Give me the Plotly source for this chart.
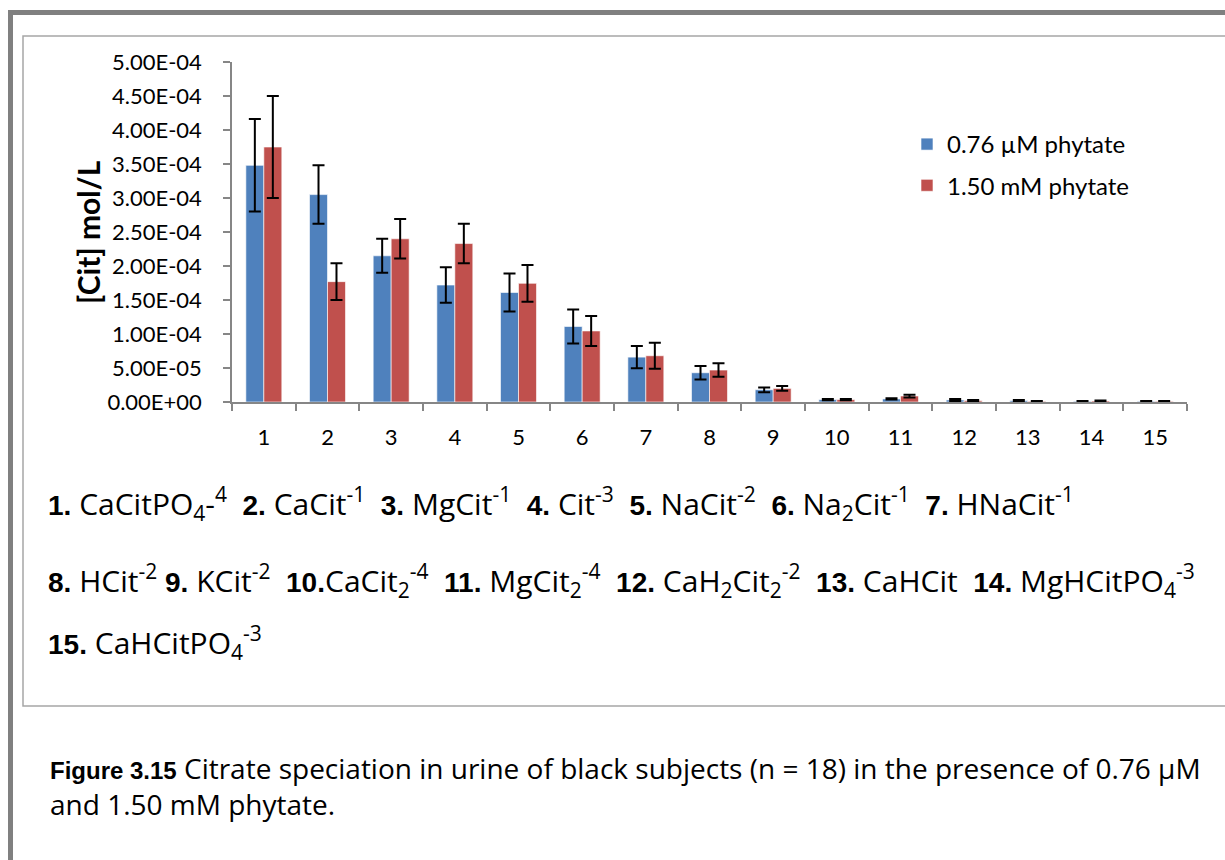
import plotly.graph_objects as go

# ---------------- data ----------------
categories = [str(i) for i in range(1, 16)]
series_names = ["0.76 µM phytate", "1.50 mM phytate"]
low_phytate = [3.48e-4, 3.05e-4, 2.15e-4, 1.72e-4, 1.61e-4, 1.11e-4, 0.66e-4, 0.43e-4,
               0.18e-4, 0.035e-4, 0.045e-4, 0.03e-4, 0.02e-4, 0.01e-4, 0.01e-4]
low_err = [0.68e-4, 0.43e-4, 0.25e-4, 0.26e-4, 0.28e-4, 0.25e-4, 0.165e-4, 0.10e-4,
           0.035e-4, 0.01e-4, 0.01e-4, 0.015e-4, 0.008e-4, 0.005e-4, 0.005e-4]
high_phytate = [3.75e-4, 1.77e-4, 2.40e-4, 2.33e-4, 1.745e-4, 1.045e-4, 0.68e-4, 0.47e-4,
                0.20e-4, 0.035e-4, 0.088e-4, 0.02e-4, 0.01e-4, 0.015e-4, 0.01e-4]
high_err = [0.75e-4, 0.27e-4, 0.29e-4, 0.29e-4, 0.27e-4, 0.22e-4, 0.19e-4, 0.10e-4,
            0.035e-4, 0.01e-4, 0.02e-4, 0.008e-4, 0.005e-4, 0.008e-4, 0.005e-4]
y_ticks = [i * 5e-5 for i in range(11)]
y_title = "[Cit] mol/L"
# (number, formula) pairs for the species key
species_line1 = [("1.", " CaCitPO<sub>4</sub>-<sup>4</sup>"), ("2.", " CaCit<sup>-1</sup>"),
                 ("3.", " MgCit<sup>-1</sup>"), ("4.", " Cit<sup>-3</sup>"),
                 ("5.", " NaCit<sup>-2</sup>"), ("6.", " Na<sub>2</sub>Cit<sup>-1</sup>"),
                 ("7.", " HNaCit<sup>-1</sup>")]
species_line2 = [("8.", " HCit<sup>-2</sup>"), ("9.", " KCit<sup>-2</sup>"),
                 ("10.", "CaCit<sub>2</sub><sup>-4</sup>"), ("11.", " MgCit<sub>2</sub><sup>-4</sup>"),
                 ("12.", " CaH<sub>2</sub>Cit<sub>2</sub><sup>-2</sup>"), ("13.", " CaHCit"),
                 ("14.", " MgHCitPO<sub>4</sub><sup>-3</sup>")]
species_line3 = [("15.", " CaHCitPO<sub>4</sub><sup>-3</sup>")]
caption_bold = "Figure 3.15"
caption_line1 = " Citrate speciation in urine of black subjects (n = 18) in the presence of 0.76 µM"
caption_line2 = "and 1.50 mM phytate."

# ---------------- layout geometry (pixels) ----------------
W, H = 1225, 860
L, R, T, B = 232, 1187, 62, 402
PW, PH = R - L, B - T


def px(x):
    return (x - L) / PW


def py(y):
    return (B - y) / PH


blue = "#4F81BD"
red = "#C0504D"
chart_font = "Lato, Open Sans, sans-serif"
text_font = "Open Sans, Liberation Sans, Arial, sans-serif"
KEY_SIZE, KEY_BOLD = 30, 28
CAP_SIZE, CAP_BOLD = 28, 24


def bold(s, size):
    return ('<span style="font-family:Liberation Sans, Arial, sans-serif;font-size:%dpx">' % size
            + "<b>" + s + "</b></span>")


def join_line(items, seps):
    out = ""
    for i, (num, formula) in enumerate(items):
        if i > 0:
            out += seps[i - 1]
        out += bold(num, KEY_BOLD) + formula
    return out


fig = go.Figure()
fig.add_trace(go.Bar(
    x=categories, y=low_phytate, name=series_names[0], legendgroup="a",
    marker=dict(color=blue, line=dict(color="rgba(255,255,255,0.6)", width=1)),
    error_y=dict(type="data", array=low_err, color="black", thickness=2, width=6),
))
fig.add_trace(go.Bar(
    x=categories, y=high_phytate, name=series_names[1], legendgroup="b",
    marker=dict(color=red, line=dict(color="rgba(255,255,255,0.6)", width=1)),
    error_y=dict(type="data", array=high_err, color="black", thickness=2, width=6),
))

shapes = [
    dict(type="line", xref="paper", yref="paper", x0=px(8), x1=px(1230), y0=py(12.5), y1=py(12.5),
         line=dict(color="#808080", width=5)),
    dict(type="line", xref="paper", yref="paper", x0=px(10.5), x1=px(10.5), y0=py(10), y1=py(870),
         line=dict(color="#808080", width=5)),
    dict(type="rect", xref="paper", yref="paper", x0=px(23), x1=px(1240), y0=py(36), y1=py(706),
         line=dict(color="#A6A6A6", width=1.5), layer="below"),
]

two = "&nbsp;&nbsp;"
one = "&nbsp;"
lines = [
    (join_line(species_line1, [two] * 6), 503),
    (join_line(species_line2, [one, two, two, two, two, two]), 580),
    (join_line(species_line3, []), 642),
]
annotations = []
for txt, yline in lines:
    annotations.append(dict(text=txt, x=px(46), y=py(yline), xref="paper", yref="paper",
                            xanchor="left", yanchor="middle", showarrow=False,
                            font=dict(family=text_font, size=KEY_SIZE, color="black")))
annotations.append(dict(text=bold(caption_bold, CAP_BOLD) + caption_line1 + "<br>" + caption_line2,
                        x=px(48), y=py(786), xref="paper", yref="paper", align="left",
                        xanchor="left", yanchor="middle", showarrow=False,
                        font=dict(family=text_font, size=CAP_SIZE, color="black")))
annotations.append(dict(text="<b>" + y_title + "</b>", x=px(88), y=py(232), xref="paper", yref="paper",
                        textangle=-90, showarrow=False, xanchor="center", yanchor="middle",
                        font=dict(family=chart_font, size=30, color="black")))

fig.update_layout(
    width=W, height=H,
    margin=dict(l=L, r=W - R, t=T, b=H - B, pad=0),
    paper_bgcolor="white", plot_bgcolor="white",
    barmode="group", bargap=0.435, bargroupgap=0.0,
    font=dict(family=chart_font, size=22, color="black"),
    showlegend=True,
    legend=dict(x=px(907), y=py(122), xanchor="left", yanchor="top",
                font=dict(family=chart_font, size=24, color="black"),
                tracegroupgap=7, bgcolor="rgba(0,0,0,0)"),
    shapes=shapes, annotations=annotations,
)
fig.update_xaxes(
    type="category", showline=True, linecolor="#868686", linewidth=1.5,
    ticks="outside", tickson="boundaries", ticklen=7, tickcolor="#868686", tickwidth=1.5,
    showgrid=False, ticklabelstandoff=15, tickfont=dict(family=chart_font, size=22),
)
fig.update_yaxes(
    range=[0, 5e-4], tickvals=y_ticks, ticktext=[f"{v:.2E}" for v in y_ticks],
    showline=True, linecolor="#868686", linewidth=1.5,
    ticks="outside", ticklen=7, tickcolor="#868686", tickwidth=1.5,
    showgrid=False, zeroline=False, ticklabelstandoff=17, tickfont=dict(family=chart_font, size=22),
)

fig.write_html("out.html")
